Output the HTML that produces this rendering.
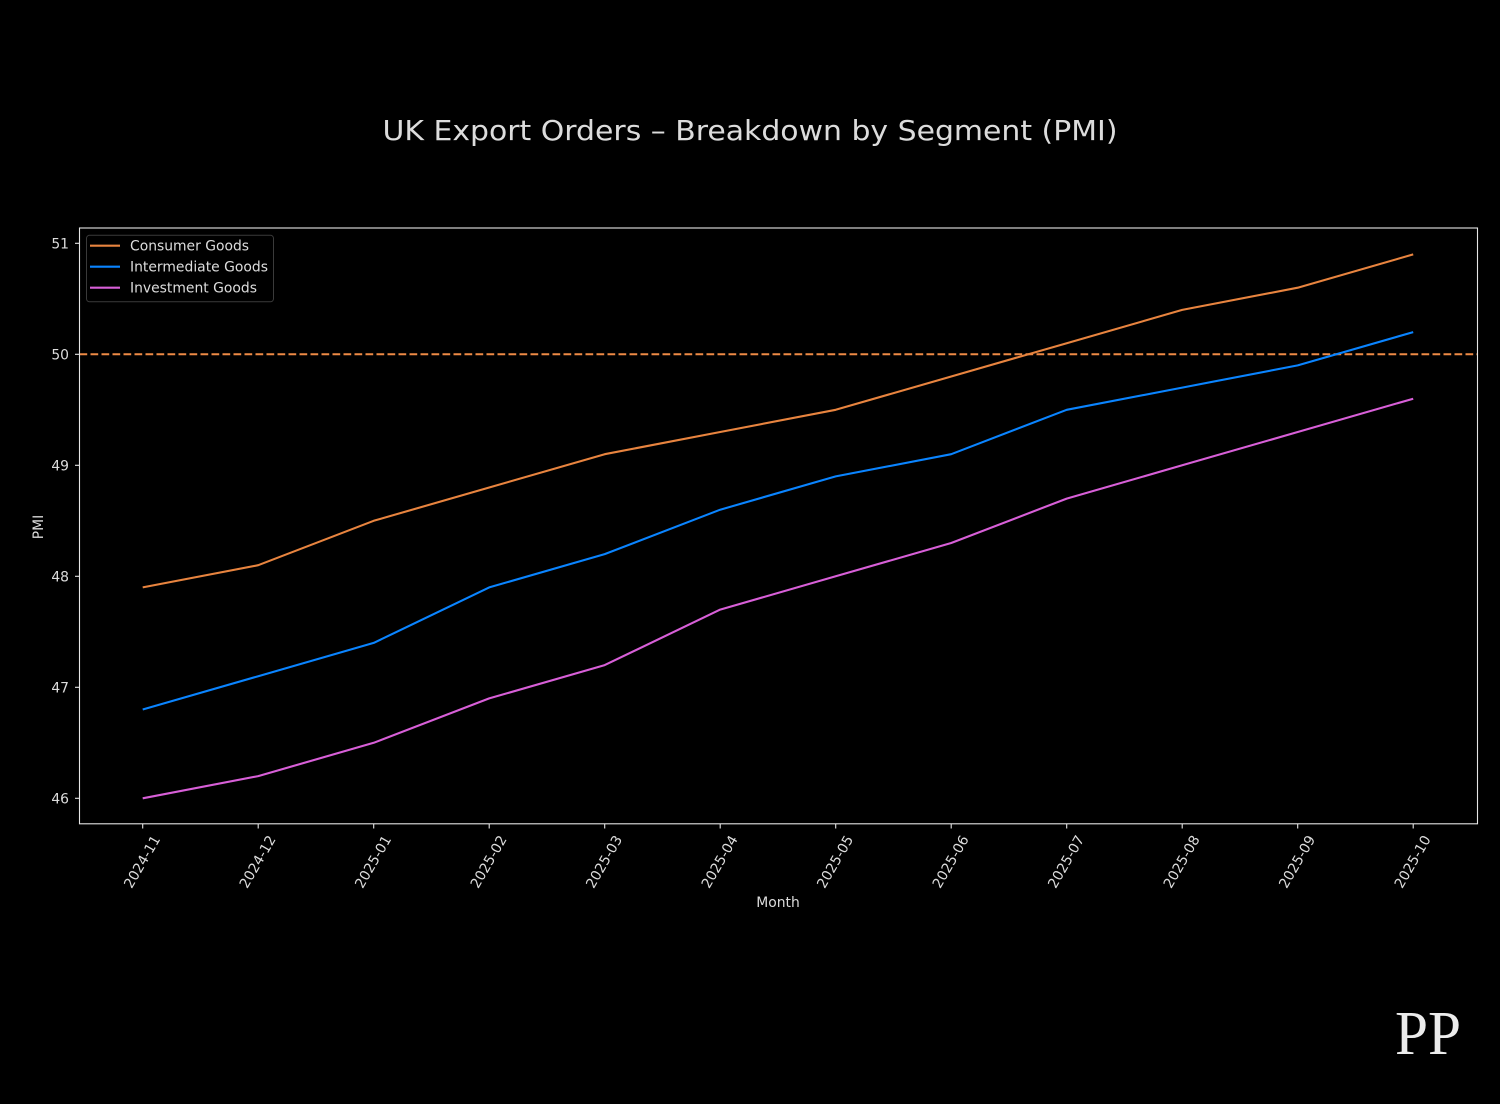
<!DOCTYPE html>
<html><head><meta charset="utf-8"><style>
html,body{margin:0;padding:0;background:#000;}
svg{display:block;}
text{font-family:"DejaVu Sans","Liberation Sans",sans-serif;fill:#dcdcdc;}
</style></head><body>
<svg width="1500" height="1104" viewBox="0 0 1500 1104" xmlns="http://www.w3.org/2000/svg">
<rect width="1500" height="1104" fill="#000"/>
<text x="750" y="140" font-size="27.8" text-anchor="middle" textLength="735" lengthAdjust="spacingAndGlyphs">UK Export Orders – Breakdown by Segment (PMI)</text>

<!-- 50 reference line -->
<line x1="79.5" y1="354.3" x2="1477.5" y2="354.3" stroke="#ee8a45" stroke-width="2" stroke-dasharray="7.7 3.3"/>

<!-- series -->
<polyline fill="none" stroke="#e8843f" stroke-width="2.1" stroke-linejoin="round" points="142.7,587.4 258.2,565.2 373.7,520.8 489.2,487.5 604.7,454.2 720.2,432.0 835.7,409.8 951.2,376.5 1066.7,343.2 1182.2,309.9 1297.7,287.7 1413.2,254.4"/>
<polyline fill="none" stroke="#0a84ff" stroke-width="2.1" stroke-linejoin="round" points="142.7,709.5 258.2,676.2 373.7,642.9 489.2,587.4 604.7,554.1 720.2,509.7 835.7,476.4 951.2,454.2 1066.7,409.8 1182.2,387.6 1297.7,365.4 1413.2,332.1"/>
<polyline fill="none" stroke="#d85fd8" stroke-width="2.1" stroke-linejoin="round" points="142.7,798.3 258.2,776.1 373.7,742.8 489.2,698.4 604.7,665.1 720.2,609.6 835.7,576.3 951.2,543.0 1066.7,498.6 1182.2,465.3 1297.7,432.0 1413.2,398.7"/>

<!-- axes frame -->
<rect x="79.5" y="228" width="1398" height="595.8" fill="none" stroke="#e6e6e6" stroke-width="1.1"/>

<!-- y ticks -->
<g stroke="#e6e6e6" stroke-width="1.1">
<line x1="75" y1="243.3" x2="79.5" y2="243.3"/>
<line x1="75" y1="354.3" x2="79.5" y2="354.3"/>
<line x1="75" y1="465.3" x2="79.5" y2="465.3"/>
<line x1="75" y1="576.3" x2="79.5" y2="576.3"/>
<line x1="75" y1="687.3" x2="79.5" y2="687.3"/>
<line x1="75" y1="798.3" x2="79.5" y2="798.3"/>
</g>
<g font-size="13.9" text-anchor="end">
<text x="69" y="248.3">51</text>
<text x="69" y="359.3">50</text>
<text x="69" y="470.3">49</text>
<text x="69" y="581.3">48</text>
<text x="69" y="692.3">47</text>
<text x="69" y="803.3">46</text>
</g>
<text x="0" y="0" font-size="13.9" text-anchor="middle" transform="translate(43,527) rotate(-90)">PMI</text>

<!-- x ticks -->
<g stroke="#e6e6e6" stroke-width="1.1">
<line x1="142.7" y1="824" x2="142.7" y2="828.5"/>
<line x1="258.2" y1="824" x2="258.2" y2="828.5"/>
<line x1="373.7" y1="824" x2="373.7" y2="828.5"/>
<line x1="489.2" y1="824" x2="489.2" y2="828.5"/>
<line x1="604.7" y1="824" x2="604.7" y2="828.5"/>
<line x1="720.2" y1="824" x2="720.2" y2="828.5"/>
<line x1="835.7" y1="824" x2="835.7" y2="828.5"/>
<line x1="951.2" y1="824" x2="951.2" y2="828.5"/>
<line x1="1066.7" y1="824" x2="1066.7" y2="828.5"/>
<line x1="1182.2" y1="824" x2="1182.2" y2="828.5"/>
<line x1="1297.7" y1="824" x2="1297.7" y2="828.5"/>
<line x1="1413.2" y1="824" x2="1413.2" y2="828.5"/>
</g>
<g font-size="13.9" text-anchor="end" dominant-baseline="central">
<text transform="translate(157.2,837) rotate(-60)">2024-11</text>
<text transform="translate(272.7,837) rotate(-60)">2024-12</text>
<text transform="translate(388.2,837) rotate(-60)">2025-01</text>
<text transform="translate(503.7,837) rotate(-60)">2025-02</text>
<text transform="translate(619.2,837) rotate(-60)">2025-03</text>
<text transform="translate(734.7,837) rotate(-60)">2025-04</text>
<text transform="translate(850.2,837) rotate(-60)">2025-05</text>
<text transform="translate(965.7,837) rotate(-60)">2025-06</text>
<text transform="translate(1081.2,837) rotate(-60)">2025-07</text>
<text transform="translate(1196.7,837) rotate(-60)">2025-08</text>
<text transform="translate(1312.2,837) rotate(-60)">2025-09</text>
<text transform="translate(1427.7,837) rotate(-60)">2025-10</text>
</g>
<text x="778" y="907" font-size="13.9" text-anchor="middle">Month</text>

<!-- legend -->
<rect x="86.5" y="235.3" width="187" height="66.5" rx="3" fill="#000" stroke="#3a3a3a" stroke-width="1"/>
<line x1="90" y1="245.7" x2="120" y2="245.7" stroke="#e8843f" stroke-width="2.1"/>
<line x1="90" y1="266.7" x2="120" y2="266.7" stroke="#0a84ff" stroke-width="2.1"/>
<line x1="90" y1="287.7" x2="120" y2="287.7" stroke="#d85fd8" stroke-width="2.1"/>
<g font-size="13.9">
<text x="130" y="250.7" textLength="119" lengthAdjust="spacingAndGlyphs">Consumer Goods</text>
<text x="130" y="271.7" textLength="138" lengthAdjust="spacingAndGlyphs">Intermediate Goods</text>
<text x="130" y="292.7" textLength="127" lengthAdjust="spacingAndGlyphs">Investment Goods</text>
</g>

<!-- logo -->
<text x="1395" y="1054" font-size="62" textLength="66" lengthAdjust="spacingAndGlyphs" style="font-family:'Liberation Serif',serif;fill:#ececec;">PP</text>
</svg>
</body></html>
